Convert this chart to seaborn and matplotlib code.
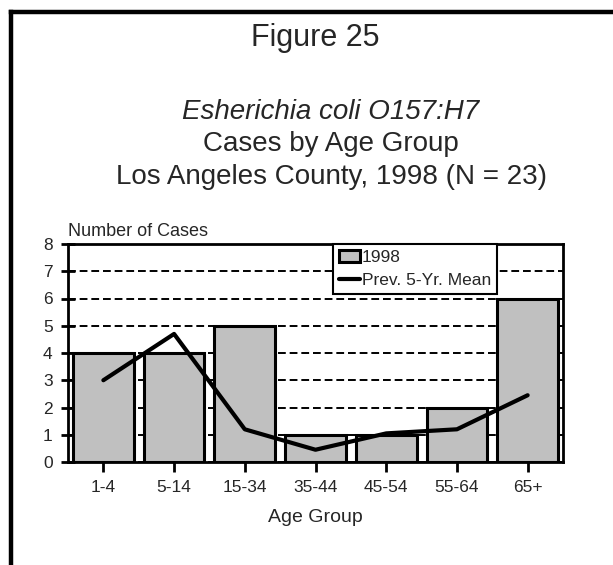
import matplotlib
matplotlib.use("Agg")
import matplotlib.pyplot as plt
from matplotlib.lines import Line2D
import seaborn as sns

# datos
age_groups = ["1-4", "5-14", "15-34", "35-44", "45-54", "55-64", "65+"]
cases_1998 = [4, 4, 5, 1, 1, 2, 6]
prev_5yr_mean = [3.0, 4.7, 1.2, 0.45, 1.05, 1.2, 2.45]

sns.set_style("white")
plt.rcParams["font.family"] = ["Liberation Sans", "DejaVu Sans"]

fig = plt.figure(figsize=(6.13, 5.65), dpi=100)
W, H = 613, 565
ax = fig.add_axes([68 / W, 1 - 462 / H, (563 - 68) / W, (462 - 244) / H])

sns.barplot(x=age_groups, y=cases_1998, color="#c0c0c0", saturation=1,
            edgecolor="black", linewidth=2.2, width=0.86, label="1998", ax=ax)
sns.pointplot(x=age_groups, y=prev_5yr_mean, color="black", markers="",
              linestyles="-", linewidth=3, errorbar=None,
              label="Prev. 5-Yr. Mean", ax=ax)

ax.set_xlim(-0.5, 6.5)
ax.set_ylim(0, 8)
ax.set_yticks(range(0, 9))
ax.set_axisbelow(True)
ax.yaxis.grid(True, color="black", linewidth=1.4, linestyle=(0, (4, 2)))
ax.xaxis.grid(False)
for s in ax.spines.values():
    s.set_visible(True)
    s.set_color("black")
    s.set_linewidth(2)
ax.tick_params(axis="both", which="both", direction="out", length=7,
               width=2, color="black", labelsize=12.5, pad=6,
               left=True, bottom=True)
ax.tick_params(axis="y", direction="inout", length=10)
ax.set_xlabel("Age Group", fontsize=14, labelpad=10)
ax.set_ylabel("")

fig.text(68 / W, 1 - 232 / H, "Number of Cases", fontsize=13, va="center", ha="left")

handles, labels = ax.get_legend_handles_labels()
order = [labels.index("1998"), labels.index("Prev. 5-Yr. Mean")]
leg = ax.legend([handles[i] for i in order], [labels[i] for i in order],
                loc="upper left", bbox_to_anchor=(333 / W, 1 - 244 / H),
                bbox_transform=fig.transFigure, fontsize=12.5, frameon=True,
                fancybox=False, borderpad=0.35, handlelength=1.2,
                handletextpad=0.1, labelspacing=0.45, borderaxespad=0)
leg.get_frame().set_edgecolor("black")
leg.get_frame().set_linewidth(1.5)
leg.get_frame().set_alpha(1)

# titulos
fig.text(315 / W, 1 - 38 / H, "Figure 25", fontsize=22, ha="center", va="center")
fig.text(331 / W, 1 - 112 / H, "Esherichia coli O157:H7", fontsize=20,
         style="italic", ha="center", va="center")
fig.text(331 / W, 1 - 144 / H, "Cases by Age Group", fontsize=20,
         ha="center", va="center")
fig.text(331 / W, 1 - 177 / H, "Los Angeles County, 1998 (N = 23)", fontsize=20,
         ha="center", va="center")

# marco de la pagina
fig.add_artist(Line2D([10.5 / W, 10.5 / W], [0, 1 - 12 / H], color="black",
                      linewidth=3.2, transform=fig.transFigure,
                      solid_capstyle="projecting"))
fig.add_artist(Line2D([10.5 / W, 1], [1 - 12 / H, 1 - 12 / H], color="black",
                      linewidth=3.2, transform=fig.transFigure,
                      solid_capstyle="projecting"))

fig.savefig("out.png", dpi=100)
